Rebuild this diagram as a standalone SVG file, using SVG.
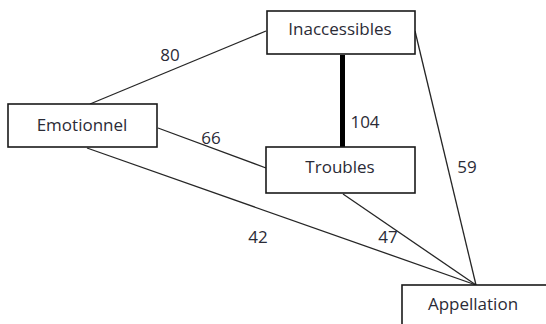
<svg xmlns="http://www.w3.org/2000/svg" width="546" height="324" viewBox="0 0 546 324">
<style>
.box{fill:#fff;stroke:#1a1a1a;stroke-width:1.6}
.t{font-family:"Open Sans","Liberation Sans",sans-serif;font-size:17px;fill:#2b2b36;text-anchor:middle}
.e{stroke:#262626;stroke-width:1.3;fill:none}
.thick{stroke:#000;stroke-width:5;fill:none}
</style>
<rect width="546" height="324" fill="#fff"/>
<g id="connectors">
<line class="e" x1="90" y1="104" x2="266" y2="31"/>
<line class="e" x1="158" y1="128" x2="266" y2="168"/>
<line class="e" x1="87" y1="148" x2="476" y2="285"/>
<line class="e" x1="343" y1="194" x2="476" y2="285"/>
<line class="e" x1="415" y1="31" x2="476" y2="285"/>
<line class="thick" x1="342.5" y1="55" x2="342.5" y2="147"/>
<text class="t" x="170" y="61">80</text>
<text class="t" x="211" y="144">66</text>
<text class="t" x="365" y="128">104</text>
<text class="t" x="467" y="173">59</text>
<text class="t" x="258" y="243">42</text>
<text class="t" x="388" y="243">47</text>
</g>
<g id="inaccessibles">
<rect class="box" x="267" y="11" width="148" height="43"/>
<text class="t" x="340" y="35">Inaccessibles</text>
</g>
<g id="emotionnel">
<rect class="box" x="8" y="104" width="149" height="43"/>
<text class="t" x="82" y="131">Emotionnel</text>
</g>
<g id="troubles">
<rect class="box" x="266" y="147" width="149" height="46"/>
<text class="t" x="340" y="173">Troubles</text>
</g>
<g id="appellation">
<rect class="box" x="402" y="285" width="170" height="60"/>
<text class="t" x="473" y="310">Appellation</text>
</g>
</svg>
